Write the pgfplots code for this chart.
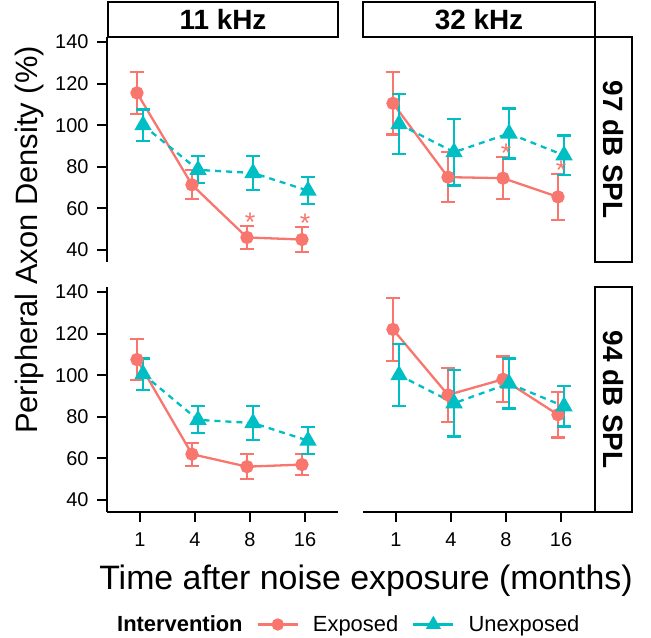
\documentclass[border=0pt]{standalone}
\usepackage{fontspec}
\setmainfont{Liberation Sans}
\usepackage{pgfplots}
\usepackage{pgfplotstable}
\pgfplotsset{compat=1.18}
\definecolor{expc}{HTML}{F8766D}
\definecolor{unec}{HTML}{00BFC4}

% x = time index (1,4,8,16 months), e/ee = Exposed mean/error, u/ue = Unexposed mean/error
\pgfplotstableread{
x e ee u ue
1 115.5 10 100 7.5
2 71.3 7 78.5 6.5
3 46 5.5 77 8
4 45 6 68.5 6.5
}\dataTL
\pgfplotstableread{
x e ee u ue
1 110.5 15 100.5 14.5
2 75 12 87 16
3 74.5 10 96 12
4 65.5 11 85.5 9.5
}\dataTR
\pgfplotstableread{
x e ee u ue
1 107.5 10 100.5 7.5
2 62 5.5 78.5 6.5
3 56 6 77 8
4 57 5 68.5 6.5
}\dataBL
\pgfplotstableread{
x e ee u ue
1 122 15 100 15
2 90.5 13 86.5 16
3 98 11 96 12
4 81 11 85 9.7
}\dataBR

\pgfplotsset{
  panel/.style={
    scale only axis, width=231bp, height=225bp,
    xmin=0.4, xmax=4.6, ymin=34.2, ymax=142.4,
    xtick={1,2,3,4}, xticklabels={1,4,8,16},
    ytick={40,60,...,140},
    minor tick num=0,
    tick align=outside, major tick length=10bp,
    tick style={black, line width=2bp},
    axis line style={black, line width=2bp},
    tick label style={font=\fontsize{20}{24}\selectfont, black},
    xticklabel style={yshift=-7bp},
    yticklabel style={xshift=-5bp},
    /pgf/number format/assume math mode=true,
    anchor=south west,
  },
  expline/.style={color=expc, line width=2.3bp, mark=*, mark size=5.5bp, mark options={solid}},
  uneline/.style={color=unec, line width=2.3bp, dash pattern=on 6bp off 5bp, mark=triangle*, mark size=7.8bp, mark options={solid}},
  ebars/.style={error bars/.cd, y dir=both, y explicit, error mark=-, error bar style={line width=2.2bp, solid}, error mark options={rotate=90, mark size=7bp, line width=2.2bp, solid}},
  star/.style={draw=none, mark=none, nodes near coords={*}, nodes near coords align={center}, every node near coord/.append style={font=\fontsize{27}{27}\selectfont, text=expc, anchor=center}},
}

\begin{document}
\begin{tikzpicture}[x=1bp,y=1bp]
\useasboundingbox (0,0) rectangle (651,638);

% top left: 11 kHz, 97 dB SPL
\begin{axis}[panel, at={(107bp,376bp)}, hide x axis, axis y line*=left]
\addplot[expline, ebars] table[x expr=\thisrow{x}-0.055, y=e, y error=ee] {\dataTL};
\addplot[uneline, ebars] table[x expr=\thisrow{x}+0.055, y=u, y error=ue] {\dataTL};
\addplot[star] coordinates {(3,53.3) (4,52.8)};
\end{axis}

% top right: 32 kHz, 97 dB SPL
\begin{axis}[panel, at={(363bp,376bp)}, hide axis]
\addplot[expline, ebars] table[x expr=\thisrow{x}-0.055, y=e, y error=ee] {\dataTR};
\addplot[uneline, ebars] table[x expr=\thisrow{x}+0.055, y=u, y error=ue] {\dataTR};
\addplot[star] coordinates {(3,86.3) (4,78.3)};
\end{axis}

% bottom left: 11 kHz, 94 dB SPL
\begin{axis}[panel, at={(107bp,126bp)}, axis x line*=bottom, axis y line*=left,
  legend style={at={(axis description cs:-0.0173,-0.50)}, anchor=west, draw=none, fill=none,
    inner sep=0pt, column sep=14bp, font=\fontsize{22}{26}\selectfont, nodes={inner sep=0pt}},
  legend columns=3,
  legend image code/.code={\draw[mark repeat=2,mark phase=2,#1] plot coordinates {(0bp,0bp) (20bp,0bp) (40bp,0bp)};},
]
\addlegendimage{empty legend}
\addlegendentry{\textbf{Intervention}}
\addlegendimage{expc, line width=2.3bp, mark=*, mark size=5bp}
\addlegendentry{Exposed}
\addlegendimage{unec, line width=2.3bp, mark=triangle*, mark size=6.5bp}
\addlegendentry{Unexposed}
\addplot[expline, ebars] table[x expr=\thisrow{x}-0.055, y=e, y error=ee] {\dataBL};
\addplot[uneline, ebars] table[x expr=\thisrow{x}+0.055, y=u, y error=ue] {\dataBL};
\end{axis}

% bottom right: 32 kHz, 94 dB SPL
\begin{axis}[panel, at={(363bp,126bp)}, axis x line*=bottom, hide y axis]
\addplot[expline, ebars] table[x expr=\thisrow{x}-0.055, y=e, y error=ee] {\dataBR};
\addplot[uneline, ebars] table[x expr=\thisrow{x}+0.055, y=u, y error=ue] {\dataBR};
\end{axis}

% facet strips
\draw[line width=1.2bp, fill=white] (108,601) rectangle (338,636);
\draw[line width=1.2bp, fill=white] (363,601) rectangle (595,636);
\draw[line width=1.2bp, fill=white] (595,376) rectangle (632,601);
\draw[line width=1.2bp, fill=white] (595,126) rectangle (632,351);
\node[font=\fontsize{28}{30}\selectfont\bfseries] at (223,618.5) {11 kHz};
\node[font=\fontsize{28}{30}\selectfont\bfseries] at (479,618.5) {32 kHz};
\node[rotate=-90, font=\fontsize{28}{30}\selectfont\bfseries] at (613.5,488.5) {97 dB SPL};
\node[rotate=-90, font=\fontsize{28}{30}\selectfont\bfseries] at (613.5,238.5) {94 dB SPL};

% axis titles
\node[rotate=90, anchor=base, font=\fontsize{31}{36}\selectfont] at (37,398) {Peripheral Axon Density (\%)};
\node[anchor=base, font=\fontsize{34}{40}\selectfont] at (366,48) {Time after noise exposure (months)};
\end{tikzpicture}
\end{document}
